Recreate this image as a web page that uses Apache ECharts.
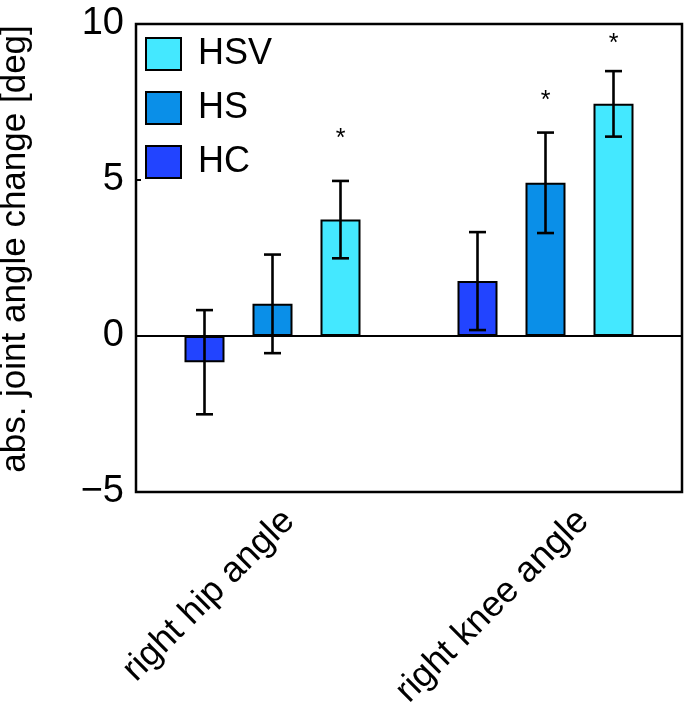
<!DOCTYPE html>
<html>
<head>
<meta charset="utf-8">
<script src="https://cdn.jsdelivr.net/npm/echarts@6/dist/echarts.min.js"></script>
<style>html,body{margin:0;padding:0;background:#fff}#c{width:685px;height:720px}</style>
</head>
<body>
<div id="c"></div>
<script>
const categories = ['right hip angle', 'right knee angle'];
const groupNames = ['HC', 'HS', 'HSV'];
const legendOrder = ['HSV', 'HS', 'HC'];
const yTicks = [-5, 0, 5, 10];
const yLabel = 'abs. joint angle change [deg]';

const hcMean = [-0.84, 1.76];
const hcErr = [1.67, 1.57];
const hsMean = [1.03, 4.91];
const hsErr = [1.58, 1.61];
const hsvMean = [3.73, 7.44];
const hsvErr = [1.24, 1.05];

// significance markers (*) and their heights
const hcStar = [null, null];
const hsStar = [null, 7.72];
const hsvStar = [6.5, 9.55];

const colors = ['#2244ff', '#0a8fe8', '#44e8ff'];
const FONT = "'Liberation Sans', Arial, sans-serif";
const BAR_W = 40;
const STEP = 68;

const means = [hcMean, hsMean, hsvMean];
const errs = [hcErr, hsErr, hsvErr];
const stars = [hcStar, hsStar, hsvStar];

const series = [];
groupNames.forEach((name, g) => {
  const s = {
    type: 'bar', name: name, data: means[g],
    barWidth: BAR_W, barGap: ((STEP - BAR_W) / BAR_W * 100) + '%',
    itemStyle: { color: colors[g], borderColor: '#000', borderWidth: 2 },
    emphasis: { disabled: true }, z: 2
  };
  if (g === 0) {
    s.markLine = {
      silent: true, symbol: ['none', 'none'], label: { show: false },
      lineStyle: { color: '#000', width: 2, type: 'solid' },
      data: [{ yAxis: 0 }], z: 1
    };
  }
  series.push(s);
});

groupNames.forEach((name, g) => {
  series.push({
    type: 'custom', name: name + ' err', z: 5, silent: true,
    data: means[g].map((m, i) => [i, m, errs[g][i]]),
    renderItem: function (params, api) {
      const ci = api.value(0), m = api.value(1), e = api.value(2);
      const off = (g - 1) * STEP;
      const top = api.coord([ci, m + e]);
      const bot = api.coord([ci, m - e]);
      const x = top[0] + off;
      const cap = 8.5;
      const st = { stroke: '#000', lineWidth: 2.6 };
      return {
        type: 'group',
        children: [
          { type: 'line', shape: { x1: x, y1: top[1], x2: x, y2: bot[1] }, style: st },
          { type: 'line', shape: { x1: x - cap, y1: top[1], x2: x + cap, y2: top[1] }, style: st },
          { type: 'line', shape: { x1: x - cap, y1: bot[1], x2: x + cap, y2: bot[1] }, style: st }
        ]
      };
    }
  });
});

const starData = [];
stars.forEach((arr, g) => arr.forEach((v, i) => { if (v !== null) starData.push([i, v, g]); }));
series.push({
  type: 'custom', name: 'stars', z: 6, silent: true,
  data: starData,
  renderItem: function (params, api) {
    const p = api.coord([api.value(0), api.value(1)]);
    const off = (api.value(2) - 1) * STEP;
    return {
      type: 'text',
      style: { x: p[0] + off, y: p[1] + 6, text: '*', fill: '#000', font: '25px ' + FONT, align: 'center', verticalAlign: 'middle' }
    };
  }
});

const chart = echarts.init(document.getElementById('c'), null, { renderer: 'canvas' });
chart.setOption({
  animation: false,
  backgroundColor: '#fff',
  textStyle: { fontFamily: FONT, color: '#000' },
  grid: { left: 136, right: 3, top: 24, bottom: 228, containLabel: false, outerBoundsMode: 'none',
    show: true, borderColor: '#000', borderWidth: 2.5, backgroundColor: 'transparent' },
  legend: {
    data: legendOrder, orient: 'vertical', left: 145, top: 36, padding: 0,
    itemWidth: 35, itemHeight: 32, itemGap: 18, icon: 'rect',
    textStyle: { fontFamily: FONT, fontSize: 36, color: '#000', lineHeight: 32, padding: [0, 0, 0, 12] },
    selectedMode: false
  },
  xAxis: {
    type: 'category', data: categories,
    axisLine: { show: false }, axisTick: { show: false }, splitLine: { show: false },
    axisLabel: {
      rotate: 45, fontSize: 36, lineHeight: 30, color: '#000', fontFamily: FONT,
      margin: 40, align: 'center', verticalAlign: 'middle', padding: [0, 180, 0, 0], interval: 0,
      formatter: function (v, i) { return i === 1 ? '\n' + v : v; }
    }
  },
  yAxis: {
    type: 'value', min: yTicks[0], max: yTicks[yTicks.length - 1], interval: 5,
    name: yLabel, nameLocation: 'middle', nameGap: 103, nameRotate: 90,
    nameTextStyle: { fontSize: 35, color: '#000', fontFamily: FONT, padding: [0, 0, 0, 18] },
    axisLine: { show: true, lineStyle: { color: '#000', width: 2 } },
    axisTick: { show: true, inside: true, length: 5, lineStyle: { color: '#000', width: 2 } },
    splitLine: { show: false },
    axisLabel: { fontSize: 38, color: '#000', fontFamily: FONT, margin: 12,
      formatter: function (v) { return String(v).replace('-', '\u2212'); } }
  },
  series: series
});
</script>
</body>
</html>
